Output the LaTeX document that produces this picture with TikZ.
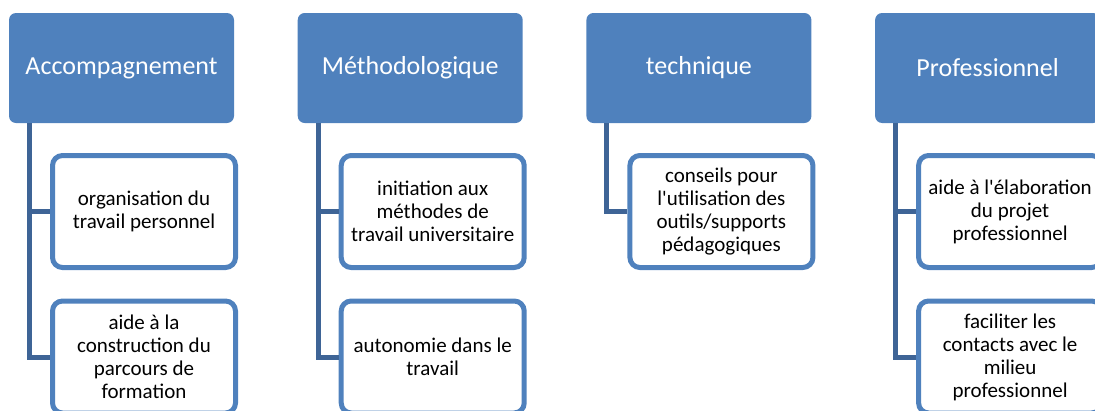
\documentclass[tikz,border=0pt]{standalone}
\usepackage{fontspec}
\setmainfont[Ligatures=TeXOff]{Carlito}
\definecolor{hdrblue}{RGB}{79,129,189}
\definecolor{lnblue}{RGB}{62,100,150}
\begin{document}
\begin{tikzpicture}[x=1pt,y=-1pt,
  header/.style={fill=hdrblue, draw=none, rounded corners=7pt, minimum width=225pt, minimum height=110pt, inner sep=0pt, text=white, font=\fontsize{26}{30}\selectfont},
  childbox/.style={fill=white, draw=hdrblue, line width=5pt, rounded corners=10pt, minimum width=183pt, minimum height=112pt, inner sep=0pt, align=center, text=black, font=\fontsize{21}{23}\selectfont},
  conn/.style={draw=lnblue, line width=5pt, line join=miter}]
\useasboundingbox (0,0) rectangle (1095,410);
\clip (0,0) rectangle (1095,410);
% headers
\node[header] (h1) at (121.5,68) {Accompagnement};
\node[header] (h2) at (410.2,68) {Méthodologique};
\node[header] (h3) at (698.9,68) {technique};
\node[header] (h4) at (987.6,68) {Professionnel};
% trunk tops
\coordinate (t1) at (29.3,123);
\coordinate (t2) at (318.0,123);
\coordinate (t3) at (606.7,123);
\coordinate (t4) at (895.4,123);
% children
\node[childbox] (b11) at (144,211.5) {organisation du\\travail personnel};
\node[childbox] (b12) at (144,357) {aide à la\\construction du\\parcours de\\formation};
\node[childbox] (b21) at (432.7,211.5) {initiation aux\\méthodes de\\travail universitaire};
\node[childbox] (b22) at (432.7,357) {autonomie dans le\\travail};
\node[childbox] (b31) at (721.4,211.5) {conseils pour\\l'utilisation des\\outils/supports\\pédagogiques};
\node[childbox] (b41) at (1010.1,211.5) {aide à l'élaboration\\du projet\\professionnel};
\node[childbox] (b42) at (1010.1,357) {faciliter les\\contacts avec le\\milieu\\professionnel};
% connectors
\draw[conn] (t1) |- (b11.west);
\draw[conn] (t1) |- (b12.west);
\draw[conn] (t2) |- (b21.west);
\draw[conn] (t2) |- (b22.west);
\draw[conn] (t3) |- (b31.west);
\draw[conn] (t4) |- (b41.west);
\draw[conn] (t4) |- (b42.west);
\end{tikzpicture}
\end{document}
